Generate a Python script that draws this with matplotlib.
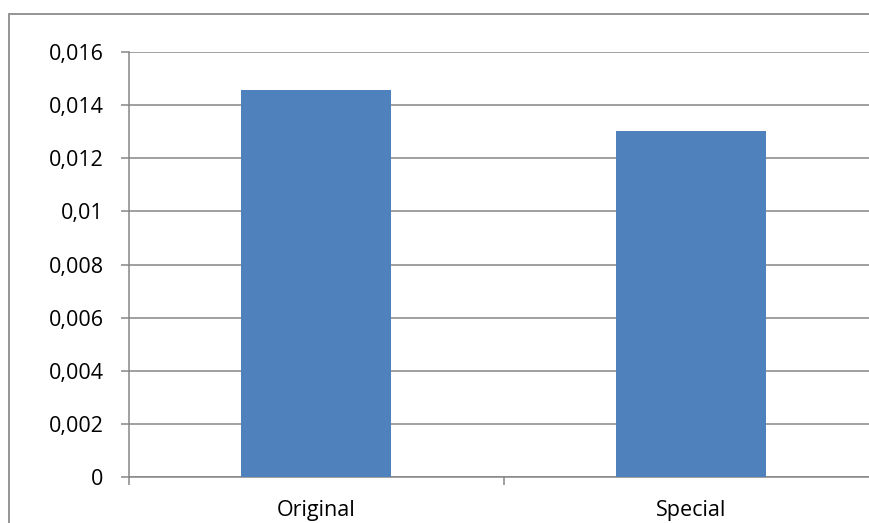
import matplotlib.pyplot as plt
from matplotlib.patches import Rectangle
from matplotlib.ticker import FixedLocator, FuncFormatter

# bar chart data
categories = ['Original', 'Special']
values = [0.01458, 0.01303]
yticks = [0, 0.002, 0.004, 0.006, 0.008, 0.01, 0.012, 0.014, 0.016]

W, H, DPI = 869, 523, 100
bar_color = '#4F81BD'
grid_color = '#868686'

fig = plt.figure(figsize=(W / DPI, H / DPI), dpi=DPI)
plt.rcParams['font.family'] = ['Open Sans', 'DejaVu Sans']

# chart frame, runs off the right and bottom edges
fig.patches.append(Rectangle((8.5 / W, -0.1), 2.0, 1 - 14.5 / H + 0.1,
                             transform=fig.transFigure, fill=False,
                             edgecolor='#8C8C8C', linewidth=1.3))

left, right = 128.5, 878.5
top, bottom = 52.3, 476.7
ax = fig.add_axes([left / W, (H - bottom) / H, (right - left) / W, (bottom - top) / H])

x = list(range(len(categories)))
ax.bar(x, values, width=0.4, color=bar_color, zorder=3)

ax.set_xlim(-0.5, len(categories) - 0.5)
ax.set_ylim(0, 0.016)

ax.set_yticks(yticks)
ax.yaxis.set_major_formatter(FuncFormatter(lambda v, p: '0' if v == 0 else f'{v:g}'.replace('.', ',')))
ax.grid(axis='y', color=grid_color, linewidth=1.1, zorder=0)

ax.set_xticks(x)
ax.set_xticklabels(categories)
ax.xaxis.set_minor_locator(FixedLocator([i - 0.5 for i in range(len(categories) + 1)]))
ax.tick_params(axis='x', which='major', length=0, pad=17, labelsize=15.5)
ax.tick_params(axis='x', which='minor', length=5.5, color=grid_color, width=1.1)
ax.tick_params(axis='y', length=6, color=grid_color, width=1.1, pad=12, labelsize=15.5)

for side in ['top', 'right']:
    ax.spines[side].set_visible(False)
for side in ['left', 'bottom']:
    ax.spines[side].set_color(grid_color)
    ax.spines[side].set_linewidth(1.1)

fig.savefig('out.png', dpi=DPI)
